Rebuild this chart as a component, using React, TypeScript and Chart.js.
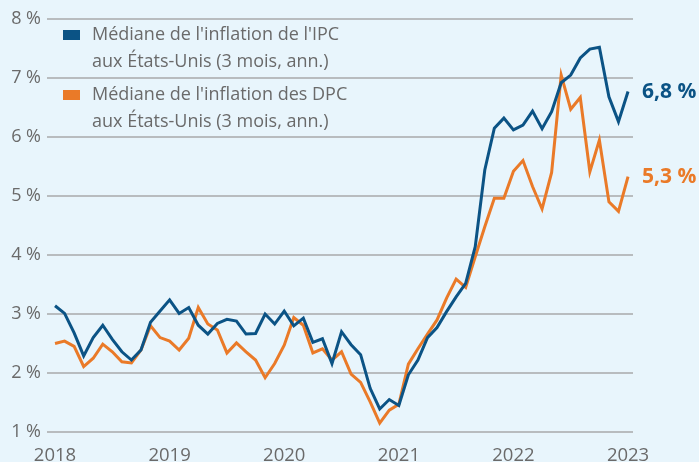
import React, { useEffect, useRef } from "react";
import { Chart, registerables } from "chart.js";

Chart.register(...registerables);

// ---- data ----
const yearLabels = ["2018", "2019", "2020", "2021", "2022", "2023"];
const monthsPerYear = 12;

// Median CPI inflation, US (3-month annualised), Jan 2018 .. Jan 2023
const cpiMedian = [
  3.14, 3.01, 2.68, 2.29, 2.6, 2.81, 2.57, 2.36, 2.22, 2.39, 2.86, 3.05,
  3.24, 3.01, 3.11, 2.81, 2.66, 2.84, 2.91, 2.88, 2.66, 2.67, 3.0, 2.83,
  3.05, 2.8, 2.93, 2.52, 2.58, 2.16, 2.7, 2.48, 2.31, 1.74, 1.39, 1.55,
  1.45, 1.97, 2.22, 2.6, 2.77, 3.04, 3.29, 3.52, 4.14, 5.44, 6.15, 6.32,
  6.12, 6.2, 6.44, 6.14, 6.43, 6.92, 7.05, 7.34, 7.49, 7.52, 6.68, 6.26,
  6.77,
];

// Median PCE inflation, US (3-month annualised), Jan 2018 .. Jan 2023
const pceMedian = [
  2.5, 2.54, 2.45, 2.11, 2.25, 2.49, 2.36, 2.19, 2.17, 2.39, 2.8, 2.6,
  2.54, 2.39, 2.59, 3.11, 2.83, 2.73, 2.34, 2.51, 2.36, 2.22, 1.92, 2.16,
  2.47, 2.94, 2.81, 2.34, 2.41, 2.22, 2.36, 1.98, 1.84, 1.51, 1.15, 1.37,
  1.47, 2.15, 2.41, 2.66, 2.9, 3.27, 3.59, 3.45, 3.97, 4.48, 4.96, 4.96,
  5.42, 5.6, 5.16, 4.78, 5.4, 7.05, 6.47, 6.67, 5.41, 5.95, 4.9, 4.74,
  5.33,
];

const seriesLabels = [
  ["Médiane de l'inflation de l'IPC", "aux États-Unis (3 mois, ann.)"],
  ["Médiane de l'inflation des DPC", "aux États-Unis (3 mois, ann.)"],
];

const yMin = 1;
const yMax = 8;

// ---- styles ----
const BLUE = "#0B5385";
const ORANGE = "#EA7A28";
const BG = "#E8F5FC";
const GRID = "#B8BCBF";
const TEXT = "#6A6A6A";
const FONT = "'Open Sans', 'Noto Sans', sans-serif";

const fmt = (v: number) => v.toFixed(1).replace(".", ",") + " %";

const bgPlugin = {
  id: "bg",
  beforeDraw(chart: any) {
    const { ctx, width, height } = chart;
    ctx.save();
    ctx.fillStyle = BG;
    ctx.fillRect(0, 0, width, height);
    ctx.restore();
  },
};

const legendPlugin = {
  id: "customLegend",
  afterDraw(chart: any) {
    const { ctx } = chart;
    ctx.save();
    ctx.font = `18px ${FONT}`;
    ctx.textBaseline = "middle";
    ctx.textAlign = "left";
    chart.data.datasets.forEach((ds: any, i: number) => {
      const y0 = 35 + i * 60;
      ctx.fillStyle = ds.borderColor;
      ctx.fillRect(63, y0 - 5, 17, 10);
      ctx.fillStyle = TEXT;
      seriesLabels[i].forEach((line, k) => {
        ctx.fillText(line, 92, y0 + k * 27);
      });
    });
    ctx.restore();
  },
};

const endLabelPlugin = {
  id: "endLabels",
  afterDatasetsDraw(chart: any) {
    const { ctx, chartArea } = chart;
    ctx.save();
    ctx.font = `bold 21px ${FONT}`;
    ctx.textBaseline = "middle";
    ctx.textAlign = "left";
    chart.data.datasets.forEach((ds: any, i: number) => {
      const meta = chart.getDatasetMeta(i);
      const last = meta.data[meta.data.length - 1];
      const v = ds.data[ds.data.length - 1].y;
      ctx.fillStyle = ds.borderColor;
      ctx.fillText(fmt(v), chartArea.right + 9, last.y);
    });
    ctx.restore();
  },
};

export default function App() {
  const ref = useRef<HTMLCanvasElement | null>(null);

  useEffect(() => {
    document.body.style.margin = "0";
    const canvas = ref.current;
    if (!canvas) return;
    const toPts = (arr: number[]) => arr.map((y, i) => ({ x: i, y }));
    const chart = new Chart(canvas, {
      type: "line",
      data: {
        datasets: [
          {
            label: seriesLabels[0].join(" "),
            data: toPts(cpiMedian),
            borderColor: BLUE,
            backgroundColor: BLUE,
            borderWidth: 3,
            pointRadius: 0,
            tension: 0,
          },
          {
            label: seriesLabels[1].join(" "),
            data: toPts(pceMedian),
            borderColor: ORANGE,
            backgroundColor: ORANGE,
            borderWidth: 3,
            pointRadius: 0,
            tension: 0,
          },
        ],
      },
      options: {
        animation: false,
        responsive: false,
        devicePixelRatio: 1,
        layout: { padding: { top: 19, right: 66, left: 0, bottom: 0 } },
        plugins: {
          legend: { display: false },
          tooltip: { enabled: false },
        },
        scales: {
          x: {
            type: "linear",
            min: -0.84,
            max: 60.52,
            grid: { display: false },
            border: { display: false },
            afterBuildTicks: (s: any) => {
              s.ticks = yearLabels.map((_, k) => ({ value: k * monthsPerYear }));
            },
            afterFit: (s: any) => {
              s.height = 30;
            },
            ticks: {
              autoSkip: false,
              maxRotation: 0,
              padding: 5,
              color: TEXT,
              font: { family: FONT, size: 18.5 },
              callback: (v: any) => yearLabels[Math.round(v / monthsPerYear)],
            },
          },
          y: {
            min: yMin,
            max: yMax,
            grid: { color: GRID, lineWidth: 2, drawTicks: false },
            border: { display: false },
            afterFit: (s: any) => {
              s.width = 47;
            },
            ticks: {
              stepSize: 1,
              padding: 6,
              color: TEXT,
              font: { family: FONT, size: 18 },
              callback: (v: any) => `${v} %`,
            },
          },
        },
      },
      plugins: [bgPlugin, legendPlugin, endLabelPlugin],
    });
    return () => chart.destroy();
  }, []);

  return (
    <div style={{ width: 699, height: 462, background: BG }}>
      <canvas ref={ref} width={699} height={462} style={{ display: "block" }} />
    </div>
  );
}
